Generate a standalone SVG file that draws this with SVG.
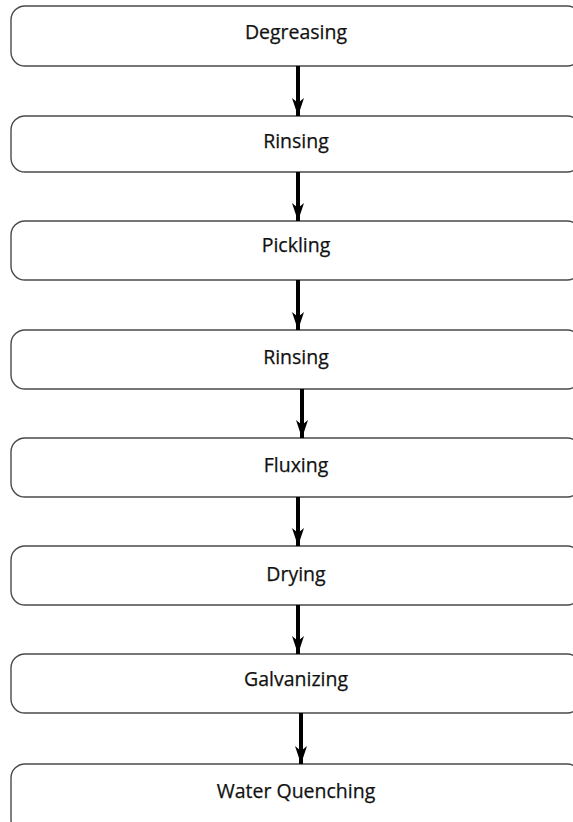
<svg xmlns="http://www.w3.org/2000/svg" width="573" height="822" viewBox="0 0 573 822">
<defs>
<style>
.box{fill:#fff;stroke:#4a4a4a;stroke-width:1.4}
.lbl{font-family:"Open Sans","Noto Sans",sans-serif;font-size:19.5px;fill:#111;text-anchor:middle;stroke:#111;stroke-width:0.25}
.conn{stroke:#000;stroke-width:4;fill:none}
</style>
<marker id="ah" viewBox="0 0 18 12" refX="18" refY="6" markerWidth="18" markerHeight="12" markerUnits="userSpaceOnUse" orient="auto">
<path d="M0,0 L5,6 L0,12 L18,6 Z" fill="#000"/>
</marker>
</defs>
<rect width="573" height="822" fill="#fff"/>
<g id="degreasing"><rect class="box" x="11" y="6" width="570" height="60" rx="14"/><text class="lbl" x="296" y="39">Degreasing</text></g>
<g id="rinsing1"><rect class="box" x="11" y="116" width="570" height="56" rx="14"/><text class="lbl" x="296" y="148">Rinsing</text></g>
<g id="pickling"><rect class="box" x="11" y="221" width="570" height="59" rx="14"/><text class="lbl" x="296" y="252">Pickling</text></g>
<g id="rinsing2"><rect class="box" x="11" y="330" width="570" height="59" rx="14"/><text class="lbl" x="296" y="364">Rinsing</text></g>
<g id="fluxing"><rect class="box" x="11" y="438" width="570" height="59" rx="14"/><text class="lbl" x="296" y="472">Fluxing</text></g>
<g id="drying"><rect class="box" x="11" y="546" width="570" height="59" rx="14"/><text class="lbl" x="296" y="581">Drying</text></g>
<g id="galvanizing"><rect class="box" x="11" y="654" width="570" height="59" rx="14"/><text class="lbl" x="296" y="686">Galvanizing</text></g>
<g id="waterquenching"><rect class="box" x="11" y="764" width="570" height="70" rx="14"/><text class="lbl" x="296" y="798">Water Quenching</text></g>
<g id="connectors">
<line class="conn" x1="298" y1="66" x2="298" y2="116" marker-end="url(#ah)"/>
<line class="conn" x1="298" y1="172" x2="298" y2="221" marker-end="url(#ah)"/>
<line class="conn" x1="298" y1="280" x2="298" y2="330" marker-end="url(#ah)"/>
<line class="conn" x1="302" y1="389" x2="302" y2="438" marker-end="url(#ah)"/>
<line class="conn" x1="298" y1="497" x2="298" y2="546" marker-end="url(#ah)"/>
<line class="conn" x1="298" y1="605" x2="298" y2="654" marker-end="url(#ah)"/>
<line class="conn" x1="301" y1="713" x2="301" y2="764" marker-end="url(#ah)"/>
</g>
</svg>
